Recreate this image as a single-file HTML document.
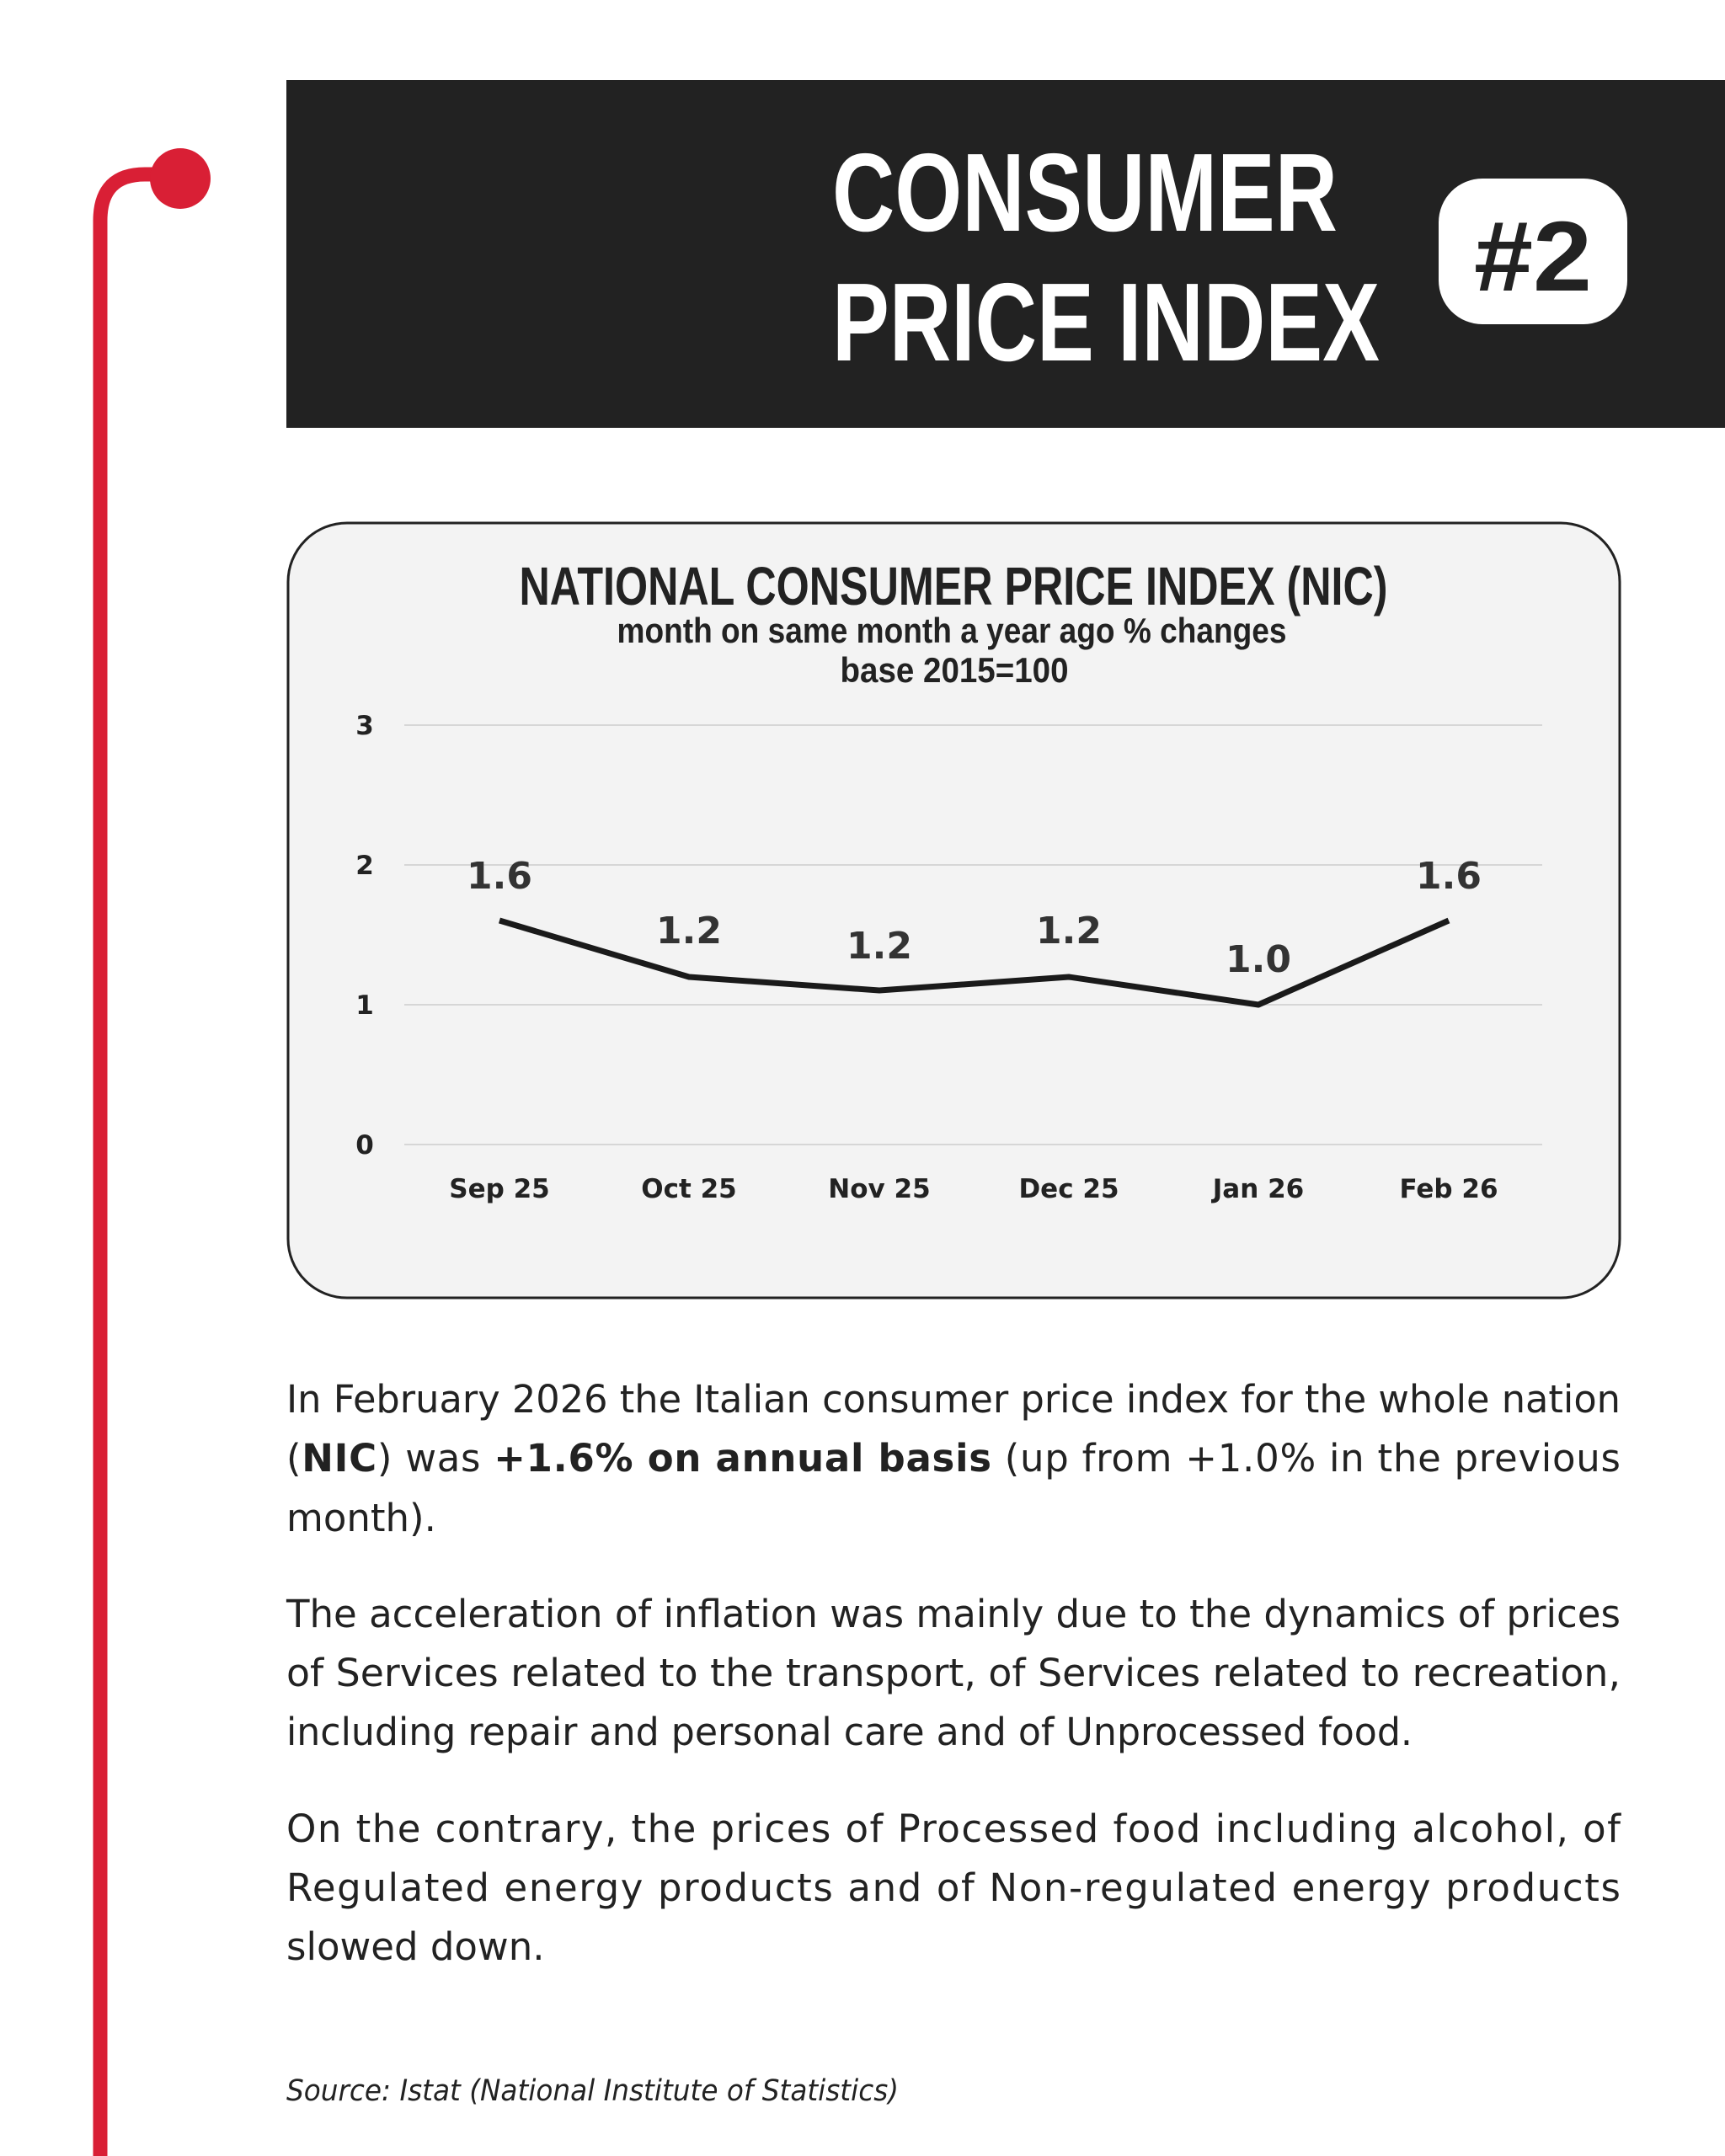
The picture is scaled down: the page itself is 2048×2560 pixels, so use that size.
<!DOCTYPE html>
<html><head><meta charset="utf-8"><style>
html,body{margin:0;padding:0;background:#fff;}
svg{display:block}
</style></head><body>
<svg width="2048" height="2560" viewBox="0 0 2048 2560" xmlns="http://www.w3.org/2000/svg">
<rect width="2048" height="2560" fill="#fff"/>
<path d="M119 2560 L119 262 Q119 207 172 207 L214 207" fill="none" stroke="#d91f35" stroke-width="17"/>
<circle cx="214" cy="212" r="36" fill="#d91f35"/>
<rect x="340" y="95" width="1708" height="413" fill="#222"/>
<text x="988" y="274" font-family="Liberation Sans Narrow, Liberation Sans, sans-serif" font-weight="bold" font-size="132" fill="#fff" textLength="600" lengthAdjust="spacingAndGlyphs">CONSUMER</text>
<text x="988" y="428" font-family="Liberation Sans Narrow, Liberation Sans, sans-serif" font-weight="bold" font-size="132" fill="#fff" textLength="650" lengthAdjust="spacingAndGlyphs">PRICE INDEX</text>
<rect x="1708" y="212" width="224" height="173" rx="52" fill="#fff"/>
<text x="1820" y="345" text-anchor="middle" font-family="Liberation Sans Narrow, Liberation Sans, sans-serif" font-weight="bold" font-size="118" fill="#222" textLength="140" lengthAdjust="spacingAndGlyphs">#2</text>
<rect x="342" y="621" width="1581" height="920" rx="70" fill="#f3f3f3" stroke="#222" stroke-width="3"/>
<text x="1132" y="718" text-anchor="middle" font-family="Liberation Sans Narrow, Liberation Sans, sans-serif" font-weight="bold" font-size="64" fill="#222" textLength="1031" lengthAdjust="spacingAndGlyphs">NATIONAL CONSUMER PRICE INDEX (NIC)</text>
<text x="1130" y="763" text-anchor="middle" font-family="Liberation Sans Narrow, Liberation Sans, sans-serif" font-weight="bold" font-size="42" fill="#222" textLength="795" lengthAdjust="spacingAndGlyphs">month on same month a year ago % changes</text>
<text x="1133" y="810" text-anchor="middle" font-family="Liberation Sans Narrow, Liberation Sans, sans-serif" font-weight="bold" font-size="42" fill="#222" textLength="271" lengthAdjust="spacingAndGlyphs">base 2015=100</text>
<g stroke="#d6d6d6" stroke-width="2">
<line x1="480" y1="861" x2="1831" y2="861"/>
<line x1="480" y1="1027" x2="1831" y2="1027"/>
<line x1="480" y1="1193" x2="1831" y2="1193"/>
<line x1="480" y1="1359" x2="1831" y2="1359"/>
</g>
<g font-family="DejaVu Sans, sans-serif" font-weight="bold" font-size="31" fill="#222" text-anchor="middle">
<text x="433" y="872">3</text><text x="433" y="1038">2</text><text x="433" y="1204">1</text><text x="433" y="1370">0</text>
</g>
<polyline points="593,1093 818,1160 1044,1176 1269,1160 1494,1193 1720,1093" fill="none" stroke="#1a1a1a" stroke-width="7" stroke-linejoin="round"/>
<g font-family="DejaVu Sans, sans-serif" font-weight="bold" font-size="44" fill="#333" text-anchor="middle">
<text x="593" y="1055">1.6</text><text x="818" y="1120">1.2</text><text x="1044" y="1138">1.2</text><text x="1269" y="1120">1.2</text><text x="1494" y="1154">1.0</text><text x="1720" y="1055">1.6</text>
</g>
<g font-family="DejaVu Sans, sans-serif" font-weight="bold" font-size="31" fill="#222" text-anchor="middle">
<text x="593" y="1422">Sep 25</text><text x="818" y="1422">Oct 25</text><text x="1044" y="1422">Nov 25</text><text x="1269" y="1422">Dec 25</text><text x="1494" y="1422">Jan 26</text><text x="1720" y="1422">Feb 26</text>
</g>
<g font-family="DejaVu Sans, sans-serif" font-size="45" fill="#222">
<text x="340" y="1677" textLength="1584" lengthAdjust="spacingAndGlyphs">In February 2026 the Italian consumer price index for the whole nation</text>
<text x="340" y="1747" textLength="1584" lengthAdjust="spacing">(<tspan font-weight="bold">NIC</tspan>) was <tspan font-weight="bold">+1.6% on annual basis</tspan> (up from +1.0% in the previous</text>
<text x="340" y="1818">month).</text>
<text x="340" y="1932" textLength="1584" lengthAdjust="spacingAndGlyphs">The acceleration of inflation was mainly due to the dynamics of prices</text>
<text x="340" y="2002" textLength="1584" lengthAdjust="spacingAndGlyphs">of Services related to the transport, of Services related to recreation,</text>
<text x="340" y="2072" textLength="1337" lengthAdjust="spacingAndGlyphs">including repair and personal care and of Unprocessed food.</text>
<text x="340" y="2187" textLength="1584" lengthAdjust="spacing">On the contrary, the prices of Processed food including alcohol, of</text>
<text x="340" y="2257" textLength="1584" lengthAdjust="spacing">Regulated energy products and of Non-regulated energy products</text>
<text x="340" y="2327">slowed down.</text>
</g>
<text x="340" y="2494" font-family="DejaVu Sans, sans-serif" font-style="italic" font-size="35" fill="#222" textLength="727" lengthAdjust="spacingAndGlyphs">Source: Istat (National Institute of Statistics)</text>
</svg>
</body></html>
